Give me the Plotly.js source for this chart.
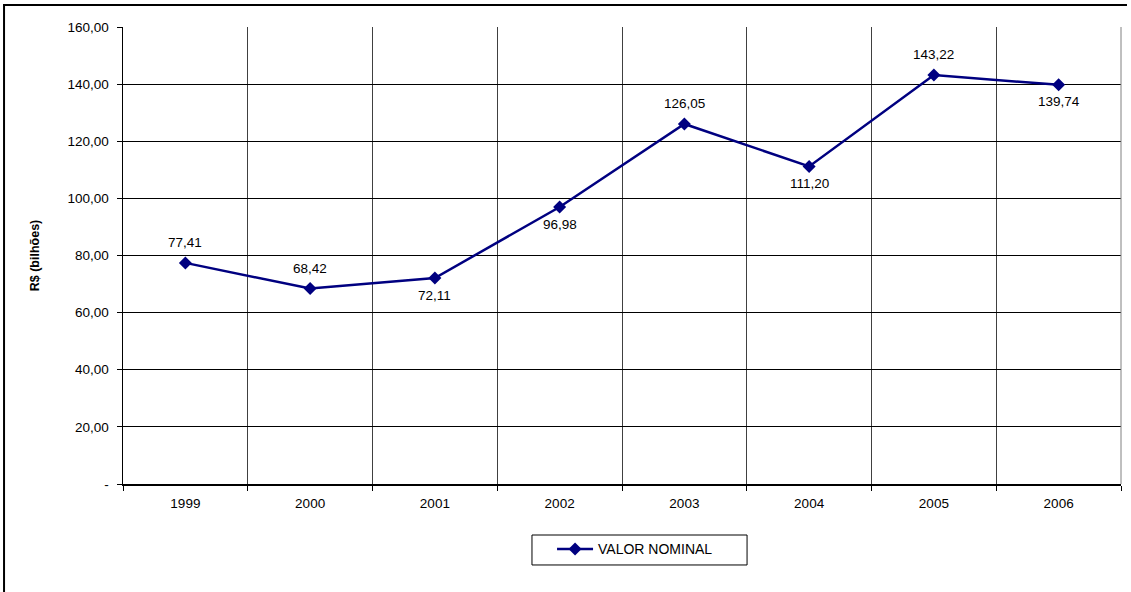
<!DOCTYPE html>
<html>
<head>
<meta charset="utf-8">
<script src="https://cdn.plot.ly/plotly-3.0.1.min.js"></script>
<style>html,body{margin:0;padding:0;background:#fff;}#chart{width:1131px;height:592px;}</style>
</head>
<body>
<div id="chart"></div>
<script>
const years = ['1999','2000','2001','2002','2003','2004','2005','2006'];
const valorNominal = [77.41, 68.42, 72.11, 96.98, 126.05, 111.20, 143.22, 139.74];
const labelSide = ['above','above','below','below','above','below','above','below'];
const yTickVals = [0, 20, 40, 60, 80, 100, 120, 140, 160];
const yTickText = ['-', '20,00', '40,00', '60,00', '80,00', '100,00', '120,00', '140,00', '160,00'];
const seriesName = 'VALOR NOMINAL';
const yTitle = 'R$ (bilhões)';

const fmt = v => v.toFixed(2).replace('.', ',');
const FONT = 'Arial, "Liberation Sans", sans-serif';

const trace = {
  x: years,
  y: valorNominal,
  type: 'scatter',
  mode: 'lines+markers',
  name: seriesName,
  line: {color: '#000080', width: 2.5},
  marker: {symbol: 'diamond', size: 10, color: '#000080'},
  hoverinfo: 'skip'
};

const annotations = years.map((yr, i) => ({
  x: i, y: valorNominal[i], xref: 'x', yref: 'y',
  text: fmt(valorNominal[i]), showarrow: false,
  yshift: labelSide[i] === 'above' ? 20 : -17,
  font: {family: FONT, size: 13.5, color: '#000'}
}));

const layout = {
  width: 1131, height: 592,
  margin: {l: 123, r: 10, t: 27, b: 108},
  paper_bgcolor: '#fff', plot_bgcolor: '#fff',
  font: {family: FONT, size: 13.5, color: '#000'},
  showlegend: true,
  xaxis: {
    type: 'category',
    tickson: 'boundaries',
    showgrid: true, gridcolor: '#404040', gridwidth: 1,
    ticks: 'outside', ticklen: 5, tickcolor: '#000', tickwidth: 1,
    showline: true, linecolor: '#000', linewidth: 1.5,
    ticklabelstandoff: 6,
    tickfont: {family: FONT, size: 13.5, color: '#000'},
    range: [-0.5, 7.5],
    fixedrange: true
  },
  yaxis: {
    range: [0, 160],
    tickvals: yTickVals, ticktext: yTickText,
    showgrid: true, gridcolor: '#000', gridwidth: 1,
    zeroline: false,
    ticks: 'outside', ticklen: 5, tickcolor: '#000', tickwidth: 1,
    showline: true, linecolor: '#000', linewidth: 1.5,
    ticklabelstandoff: 5,
    tickfont: {family: FONT, size: 13.5, color: '#000'},
    title: {text: '<b>' + yTitle + '</b>', font: {family: FONT, size: 12.5, color: '#000'}, standoff: 25},
    fixedrange: true
  },
  legend: {
    orientation: 'h',
    x: 0.4299, xanchor: 'left',
    y: -0.108, yanchor: 'top',
    borderwidth: 0,
    bgcolor: 'rgba(0,0,0,0)',
    font: {family: FONT, size: 14, color: '#000'},
    itemwidth: 36
  },
  annotations: annotations,
  shapes: [
    {type: 'line', xref: 'paper', yref: 'paper', x0: -0.1192, x1: -0.1192, y0: 1.05, y1: -0.26, line: {color: '#000', width: 2}},
    {type: 'line', xref: 'paper', yref: 'paper', x0: -0.1202, x1: 1.006, y0: 1.048, y1: 1.048, line: {color: '#000', width: 2}},
    {type: 'line', xref: 'paper', yref: 'paper', x0: 1, x1: 1, y0: 0, y1: 1, line: {color: '#808080', width: 1}},
    {type: 'rect', xref: 'paper', yref: 'paper', x0: 0.4098, x1: 0.6253, y0: -0.1116, y1: -0.1772, line: {color: '#000', width: 1}, fillcolor: 'rgba(0,0,0,0)'}
  ]
};

Plotly.newPlot('chart', [trace], layout, {displayModeBar: false, staticPlot: true});
</script>
</body>
</html>
